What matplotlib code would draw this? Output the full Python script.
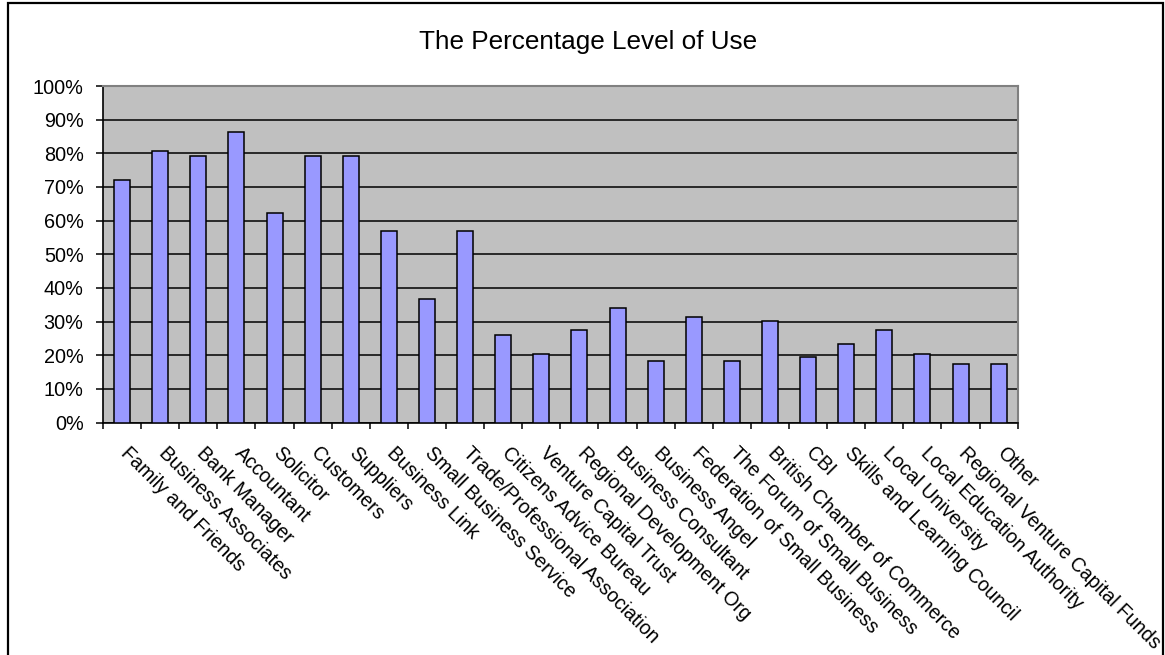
import matplotlib
matplotlib.use("Agg")
import matplotlib.pyplot as plt
import matplotlib.transforms as mtransforms
from matplotlib.patches import Rectangle
from matplotlib.ticker import FuncFormatter

plt.rcParams['font.family'] = ['Liberation Sans', 'DejaVu Sans']

title = "The Percentage Level of Use"

categories = [
    "Family and Friends", "Business Associates", "Bank Manager", "Accountant",
    "Solicitor", "Customers", "Suppliers", "Business Link",
    "Small Business Service", "Trade/Professional Association",
    "Citizens Advice Bureau", "Venture Capital Trust",
    "Regional Development Org", "Business Consultant", "Business Angel",
    "Federation of Small Business", "The Forum of Small Business",
    "British Chamber of Commerce", "CBI", "Skills and Learning Council",
    "Local University", "Local Education Authority",
    "Regional Venture Capital Funds", "Other",
]

usage_pct = [
    72.1, 80.8, 79.1, 86.3, 62.3, 79.1, 79.1, 56.9,
    36.8, 56.9, 25.9, 20.5, 27.6, 34.0, 18.3, 31.4,
    18.3, 30.3, 19.5, 23.2, 27.6, 20.5, 17.3, 17.3,
]

y_ticks = [0, 10, 20, 30, 40, 50, 60, 70, 80, 90, 100]

W, H = 1165, 655
fig = plt.figure(figsize=(W / 100, H / 100), dpi=100)
fig.patch.set_facecolor("white")

# chart area frame
fig.add_artist(Rectangle((8 / W, -0.05), (1163 - 8) / W, 1.05 - 3 / H,
                         transform=fig.transFigure, fill=False,
                         edgecolor="black", linewidth=1.6, zorder=10))

ax = fig.add_axes([103 / W, (H - 422.5) / H, (1017.7 - 103) / W, (422.5 - 86) / H])
ax.set_facecolor("#C0C0C0")

n = len(categories)
x = list(range(n))
ax.bar(x, usage_pct, width=0.42, color="#9999FF", edgecolor="black",
       linewidth=1.1, zorder=3)

ax.set_xlim(-0.5, n - 0.5)
ax.set_ylim(0, 100)

# horizontal gridlines
ax.set_yticks(y_ticks)
ax.yaxis.set_major_formatter(FuncFormatter(lambda v, p: f"{int(v)}%"))
ax.grid(axis="y", color="black", linewidth=1.1, zorder=1)
ax.set_axisbelow(True)
ax.tick_params(axis="y", direction="out", length=5, width=1.1, pad=9,
               labelsize=14.3, colors="black")

# category boundary ticks on the x axis
ax.set_xticks([i - 0.5 for i in range(n + 1)])
ax.set_xticklabels([])
ax.tick_params(axis="x", direction="out", length=4.5, width=1.1)

for side in ("top", "right"):
    ax.spines[side].set_color("#808080")
    ax.spines[side].set_linewidth(1.5)
for side in ("left", "bottom"):
    ax.spines[side].set_color("black")
    ax.spines[side].set_linewidth(1.2)

# rotated category labels
base = mtransforms.blended_transform_factory(ax.transData, ax.transAxes)
offset = mtransforms.ScaledTranslation(8 / 100, -21 / 100, fig.dpi_scale_trans)
for i, label in enumerate(categories):
    ax.text(i, 0, label, transform=base + offset, rotation=-45,
            rotation_mode="anchor", ha="left", va="top", fontsize=14.05,
            color="black", clip_on=False)

fig.text(588 / W, 1 - 42.5 / H, title, ha="center", va="center",
         fontsize=18.8, color="black")

fig.savefig("out.png", dpi=100)
